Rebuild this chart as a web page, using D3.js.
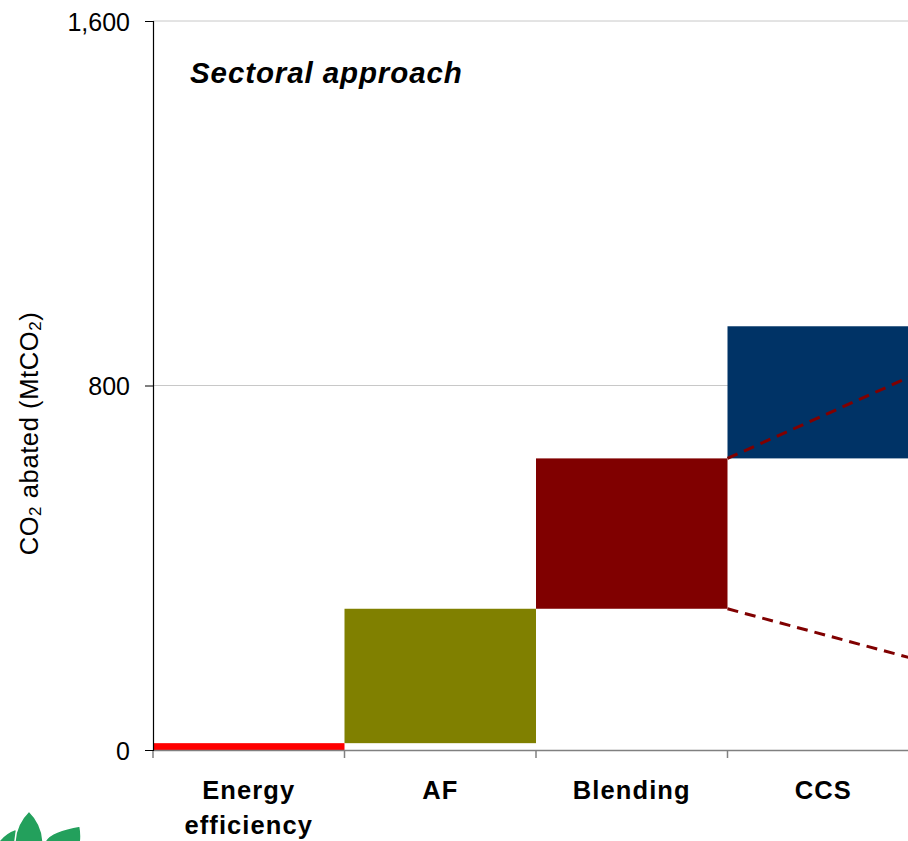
<!DOCTYPE html>
<html>
<head>
<meta charset="utf-8">
<script src="https://cdn.jsdelivr.net/npm/d3@7"></script>
<style>
  html, body { margin: 0; padding: 0; background: #fff; }
  svg { display: block; font-family: "Liberation Sans", Arial, sans-serif; }
</style>
</head>
<body>
<svg id="chart" width="908" height="841"></svg>
<script>
// Abatement wedges by lever (MtCO2): each wedge runs from a start to an end value
const categories = ["Energy efficiency", "AF", "Blending", "CCS"];
const wedgeStart = [0, 15, 310, 640];
const wedgeEnd   = [15, 310, 640, 930];
const wedgeColors = ["#ff0000", "#808000", "#800000", "#003366"];

// Uncertainty range fanning out across the CCS wedge
const rangeHigh = [640, 828];
const rangeLow  = [310, 197];

const yTicks = [0, 800, 1600];
const yTickLabels = ["0", "800", "1,600"];

const svg = d3.select("#chart");
const margin = { left: 153, right: 919, top: 21, bottom: 750 };

const x = d3.scaleBand().domain(categories).range([margin.left, margin.right]).padding(0);
const y = d3.scaleLinear().domain([0, 1600]).range([margin.bottom, margin.top]);

// gridlines
svg.append("g").selectAll("line")
  .data(yTicks.filter(d => d > 0))
  .join("line")
  .attr("x1", margin.left).attr("x2", margin.right)
  .attr("y1", d => y(d)).attr("y2", d => y(d))
  .attr("stroke", "#c8c8c8").attr("stroke-width", 1);

// wedges
const bars = categories.map((c, i) => ({ c, s: wedgeStart[i], e: wedgeEnd[i], col: wedgeColors[i] }));
svg.append("g").selectAll("rect")
  .data(bars)
  .join("rect")
  .attr("x", d => x(d.c))
  .attr("width", x.bandwidth())
  .attr("y", d => y(d.e))
  .attr("height", d => y(d.s) - y(d.e))
  .attr("fill", d => d.col);

// dashed range lines across the CCS band
const x0 = x("CCS"), x1 = x("CCS") + x.bandwidth();
[rangeHigh, rangeLow].forEach(r => {
  svg.append("line")
    .attr("x1", x0).attr("y1", y(r[0]))
    .attr("x2", x1).attr("y2", y(r[1]))
    .attr("stroke", "#800000").attr("stroke-width", 3)
    .attr("stroke-dasharray", "11,7");
});

// x axis
const xAxis = d3.axisBottom(x).tickSize(0).tickFormat("");
const gx = svg.append("g").attr("transform", `translate(0,${margin.bottom})`).call(xAxis);
gx.select(".domain").attr("stroke", "#808080").attr("stroke-width", 1.5);
const bounds = categories.map(c => x(c));
svg.append("g").selectAll("line")
  .data(bounds)
  .join("line")
  .attr("x1", d => d).attr("x2", d => d)
  .attr("y1", margin.bottom).attr("y2", margin.bottom + 8)
  .attr("stroke", "#808080").attr("stroke-width", 1.5);

// category labels (multi-line)
const labelLines = { "Energy efficiency": ["Energy", "efficiency"] };
const lab = svg.append("g").selectAll("text")
  .data(categories)
  .join("text")
  .attr("x", d => x(d) + x.bandwidth() / 2)
  .attr("y", 799)
  .attr("text-anchor", "middle")
  .attr("font-size", 25.5)
  .attr("font-weight", "bold")
  .attr("letter-spacing", 1.1)
  .attr("fill", "#000");
lab.each(function(d) {
  const lines = labelLines[d] || [d];
  const t = d3.select(this);
  lines.forEach((ln, i) => {
    t.append("tspan")
      .attr("x", x(d) + x.bandwidth() / 2)
      .attr("dy", i === 0 ? 0 : 35)
      .text(ln);
  });
});

// y axis
const yAxis = d3.axisLeft(y).tickValues(yTicks).tickSize(8)
  .tickFormat((d, i) => yTickLabels[i]);
const gy = svg.append("g").attr("transform", `translate(${margin.left},0)`).call(yAxis);
gy.select(".domain").attr("stroke", "#000").attr("stroke-width", 1.2);
gy.selectAll(".tick line").attr("stroke", "#000").attr("stroke-width", 1);
gy.selectAll(".tick text")
  .attr("x", -23)
  .attr("dy", "0.36em")
  .attr("font-size", 25)
  .attr("font-family", "Liberation Sans, Arial, sans-serif")
  .attr("fill", "#000");

// y axis title
const yt = svg.append("text")
  .attr("transform", `translate(38,${(y(0) + y(1600)) / 2 + 48}) rotate(-90)`)
  .attr("text-anchor", "middle")
  .attr("font-size", 25.5)
  .attr("letter-spacing", 0.6)
  .attr("fill", "#000");
yt.append("tspan").text("CO");
yt.append("tspan").attr("font-size", 17).attr("dy", 3).text("2");
yt.append("tspan").attr("dy", -3).text(" abated (MtCO");
yt.append("tspan").attr("font-size", 17).attr("dy", 3).text("2");
yt.append("tspan").attr("dy", -3).text(")");

// panel title
svg.append("text")
  .attr("x", 190).attr("y", 83)
  .attr("font-size", 29.5)
  .attr("font-weight", "bold")
  .attr("font-style", "italic")
  .attr("letter-spacing", 0.9)
  .attr("fill", "#000")
  .text("Sectoral approach");

// corner emblem: three leaves
const leaf = svg.append("g").attr("fill", "#23a05c").attr("stroke", "#fff").attr("stroke-width", 1.5);
leaf.append("path").attr("d", "M-4,846 Q2,834 16,829 Q18,838 14,846 Z");
leaf.append("path").attr("d", "M44,846 Q44,832 80,826 Q82,836 80,846 Z");
leaf.append("path").attr("d", "M15,846 Q14,826 29,811 Q44,826 43,846 Z");
</script>
</body>
</html>
